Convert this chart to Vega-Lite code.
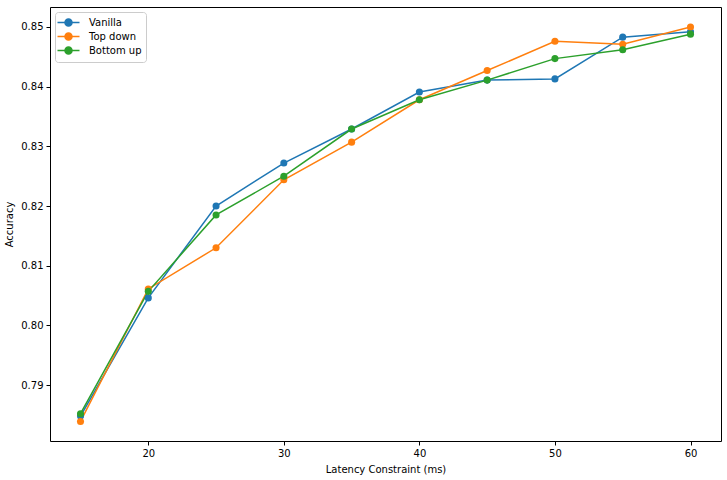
{
  "$schema": "https://vega.github.io/schema/vega-lite/v6.json",
  "width": 671,
  "height": 434,
  "autosize": {"type": "none"},
  "padding": {"left": 50, "top": 7, "right": 6, "bottom": 39},
  "background": "white",
  "config": {
    "font": "DejaVu Sans",
    "view": {"stroke": "black", "strokeWidth": 1},
    "axis": {
      "grid": false,
      "domain": false,
      "tickColor": "black",
      "tickSize": 4,
      "labelColor": "black",
      "labelFontSize": 10,
      "titleFontSize": 10,
      "titleFontWeight": "normal",
      "titleColor": "black",
      "labelFont": "DejaVu Sans",
      "titleFont": "DejaVu Sans"
    }
  },
  "data": {
    "values": [
      {"latency": 15, "accuracy": 0.7848, "method": "Vanilla"},
      {"latency": 20, "accuracy": 0.8046, "method": "Vanilla"},
      {"latency": 25, "accuracy": 0.8200, "method": "Vanilla"},
      {"latency": 30, "accuracy": 0.8272, "method": "Vanilla"},
      {"latency": 35, "accuracy": 0.8329, "method": "Vanilla"},
      {"latency": 40, "accuracy": 0.8391, "method": "Vanilla"},
      {"latency": 45, "accuracy": 0.8411, "method": "Vanilla"},
      {"latency": 50, "accuracy": 0.8413, "method": "Vanilla"},
      {"latency": 55, "accuracy": 0.8483, "method": "Vanilla"},
      {"latency": 60, "accuracy": 0.8492, "method": "Vanilla"},
      {"latency": 15, "accuracy": 0.7839, "method": "Top down"},
      {"latency": 20, "accuracy": 0.8061, "method": "Top down"},
      {"latency": 25, "accuracy": 0.8130, "method": "Top down"},
      {"latency": 30, "accuracy": 0.8244, "method": "Top down"},
      {"latency": 35, "accuracy": 0.8307, "method": "Top down"},
      {"latency": 40, "accuracy": 0.8378, "method": "Top down"},
      {"latency": 45, "accuracy": 0.8427, "method": "Top down"},
      {"latency": 50, "accuracy": 0.8476, "method": "Top down"},
      {"latency": 55, "accuracy": 0.8471, "method": "Top down"},
      {"latency": 60, "accuracy": 0.8500, "method": "Top down"},
      {"latency": 15, "accuracy": 0.7852, "method": "Bottom up"},
      {"latency": 20, "accuracy": 0.8057, "method": "Bottom up"},
      {"latency": 25, "accuracy": 0.8185, "method": "Bottom up"},
      {"latency": 30, "accuracy": 0.8250, "method": "Bottom up"},
      {"latency": 35, "accuracy": 0.8329, "method": "Bottom up"},
      {"latency": 40, "accuracy": 0.8378, "method": "Bottom up"},
      {"latency": 45, "accuracy": 0.8411, "method": "Bottom up"},
      {"latency": 50, "accuracy": 0.8447, "method": "Bottom up"},
      {"latency": 55, "accuracy": 0.8462, "method": "Bottom up"},
      {"latency": 60, "accuracy": 0.8488, "method": "Bottom up"}
    ]
  },
  "encoding": {
    "x": {
      "field": "latency",
      "type": "quantitative",
      "title": "Latency Constraint (ms)",
      "scale": {"domain": [12.75, 62.25], "nice": false, "zero": false},
      "axis": {"values": [20, 30, 40, 50, 60], "titlePadding": 6, "labelPadding": 3}
    },
    "y": {
      "field": "accuracy",
      "type": "quantitative",
      "title": "Accuracy",
      "scale": {"domain": [0.78062, 0.85335], "nice": false, "zero": false},
      "axis": {"values": [0.79, 0.80, 0.81, 0.82, 0.83, 0.84, 0.85], "format": ".2f", "titlePadding": 6, "labelPadding": 3}
    },
    "color": {
      "field": "method",
      "type": "nominal",
      "sort": ["Vanilla", "Top down", "Bottom up"],
      "scale": {"domain": ["Vanilla", "Top down", "Bottom up"], "range": ["#1f77b4", "#ff7f0e", "#2ca02c"]},
      "legend": {
        "title": null,
        "orient": "top-left",
        "offset": 5,
        "labelFontSize": 10,
        "labelFont": "DejaVu Sans",
        "labelColor": "black",
        "labelOffset": 14,
        "symbolOffset": 3,
        "strokeColor": "#cccccc",
        "fillColor": "white",
        "cornerRadius": 3,
        "padding": 4,
        "rowPadding": -2,
        "symbolType": "M-2,0L2,0M-0.64,0A0.64,0.64,0,1,1,0.64,0A0.64,0.64,0,1,1,-0.64,0Z",
        "symbolSize": 121,
        "symbolStrokeWidth": 1.5
      }
    }
  },
  "layer": [
    {"mark": {"type": "line", "strokeWidth": 1.5}},
    {"mark": {"type": "point", "filled": true, "size": 50, "opacity": 1}}
  ]
}
